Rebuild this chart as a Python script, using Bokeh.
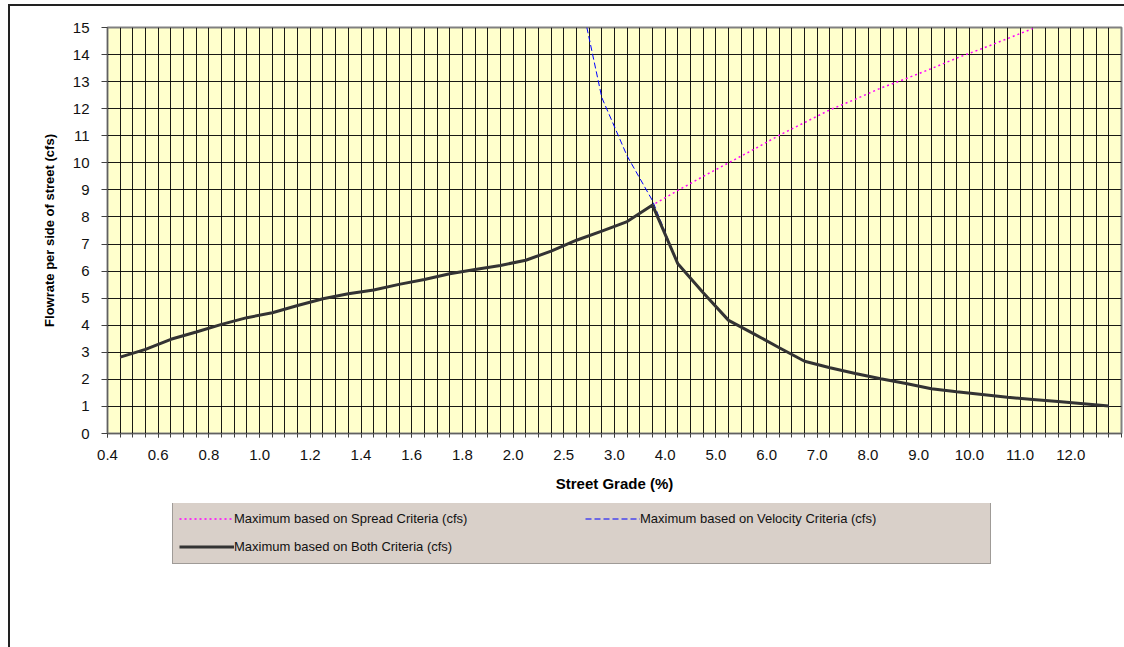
from bokeh.plotting import figure
from bokeh.layouts import column
from bokeh.models import FixedTicker, Legend, LegendItem, Range1d
from bokeh.embed import file_html
from bokeh.resources import INLINE

nan = float("nan")

# Street grade categories (%)
grades = ["0.4", "0.5", "0.6", "0.7", "0.8", "0.9", "1.0", "1.1", "1.2", "1.3",
          "1.4", "1.5", "1.6", "1.7", "1.8", "1.9", "2.0", "2.25", "2.5", "2.75",
          "3.0", "3.5", "4.0", "4.5", "5.0", "5.5", "6.0", "6.5", "7.0", "7.5",
          "8.0", "8.5", "9.0", "9.5", "10.0", "10.5", "11.0", "11.5", "12.0", "12.5"]

# Maximum based on Spread Criteria (cfs)
spread = [2.82, 3.11, 3.48, 3.75, 4.03, 4.28, 4.46, 4.73, 4.98, 5.16,
          5.30, 5.51, 5.69, 5.90, 6.06, 6.21, 6.40, 6.74, 7.14, 7.48,
          7.83, 8.44, 8.98, 9.50, 10.00, 10.50, 11.02, 11.49, 11.96, 12.35,
          12.76, 13.11, 13.48, 13.87, 14.22, 14.59, 14.96, nan, nan, nan]

# Maximum based on Velocity Criteria (cfs)
velocity = [nan, nan, nan, nan, nan, nan, nan, nan, nan, nan,
            nan, nan, nan, nan, nan, nan, nan, 20.5, 16.8, 12.41,
            10.25, 8.60, 6.27, 5.20, 4.18, 3.68, 3.17, 2.67, 2.43, 2.22,
            2.02, 1.85, 1.65, 1.54, 1.44, 1.34, 1.26, 1.18, 1.10, 1.02]

# Maximum based on Both Criteria (cfs)
both = [2.82, 3.11, 3.48, 3.75, 4.03, 4.28, 4.46, 4.73, 4.98, 5.16,
        5.30, 5.51, 5.69, 5.90, 6.06, 6.21, 6.40, 6.74, 7.14, 7.48,
        7.83, 8.44, 6.27, 5.20, 4.18, 3.68, 3.17, 2.67, 2.43, 2.22,
        2.02, 1.85, 1.65, 1.54, 1.44, 1.34, 1.26, 1.18, 1.10, 1.02]

series_labels = ["Maximum based on Spread Criteria (cfs)",
                 "Maximum based on Velocity Criteria (cfs)",
                 "Maximum based on Both Criteria (cfs)"]

y_ticks = list(range(0, 16))

n = len(grades)
xs = [i + 0.5 for i in range(n)]

SPREAD_STYLE = dict(line_color="#FF00FF", line_width=1.5, line_dash="2 3")
VEL_STYLE = dict(line_color="#0000FF", line_width=1, line_dash="6 3")
BOTH_STYLE = dict(line_color="#333333", line_width=3)

p = figure(frame_width=1014, frame_height=406,
           min_border_left=97, min_border_right=3, min_border_top=21, min_border_bottom=70,
           x_range=Range1d(0, n), y_range=Range1d(0, 15),
           output_backend="svg", toolbar_location=None)

p.background_fill_color = "#FFFFCC"
p.border_fill_color = "white"
p.outline_line_color = "#808080"
p.outline_line_width = 2

# grids
p.xgrid.ticker = FixedTicker(ticks=[k * 0.5 for k in range(2 * n + 1)])
p.ygrid.ticker = FixedTicker(ticks=y_ticks)
for g in (p.xgrid, p.ygrid):
    g.grid_line_color = "#000000"
    g.grid_line_alpha = 0.9
    g.grid_line_width = 1

# x axis
label_ticks = list(range(0, n, 2))
p.xaxis.ticker = FixedTicker(ticks=label_ticks, minor_ticks=[k * 0.5 for k in range(2 * n + 1)])
p.xaxis.major_label_overrides = {t: grades[t] for t in label_ticks}
p.xaxis.axis_label = "Street Grade (%)"
p.xaxis.axis_label_text_font = "Liberation Sans"
p.xaxis.axis_label_text_font_style = "bold"
p.xaxis.axis_label_text_font_size = "15px"
p.xaxis.axis_label_standoff = 12
p.xaxis.major_label_standoff = 12

# y axis
p.yaxis.ticker = FixedTicker(ticks=y_ticks)
p.yaxis.axis_label = "Flowrate per side of street (cfs)"
p.yaxis.axis_label_text_font = "Liberation Sans"
p.yaxis.axis_label_text_font_style = "bold"
p.yaxis.axis_label_text_font_size = "13px"
p.yaxis.axis_label_standoff = 13
p.yaxis.major_label_standoff = 12

for ax in (p.xaxis, p.yaxis):
    ax.axis_line_color = "#606060"
    ax.axis_line_width = 1
    ax.major_tick_line_color = "#404040"
    ax.minor_tick_line_color = "#404040"
    ax.major_tick_in = 0
    ax.minor_tick_in = 0
    ax.major_label_text_font = "Liberation Sans"
    ax.major_label_text_font_size = "15px"
    ax.major_label_text_color = "#111111"
    ax.axis_label_text_color = "#000000"
p.xaxis.major_tick_out = 4
p.xaxis.minor_tick_out = 4
p.yaxis.major_tick_out = 6
p.yaxis.minor_tick_out = 0

p.line(xs, spread, **SPREAD_STYLE)
p.line(xs, velocity, **VEL_STYLE)
p.line(xs, both, **BOTH_STYLE)

# legend panel below the chart (swatch renderers share the series styles, no visible data)
leg_h = 144
pl = figure(frame_width=1114, frame_height=leg_h,
            min_border_left=0, min_border_right=0, min_border_top=0, min_border_bottom=0,
            x_range=Range1d(0, 1), y_range=Range1d(0, 1),
            x_axis_type=None, y_axis_type=None,
            output_backend="svg", toolbar_location=None)
pl.grid.visible = False
pl.outline_line_color = None
pl.background_fill_color = "white"
pl.border_fill_color = "white"
l1 = pl.line([nan], [nan], **SPREAD_STYLE)
l2 = pl.line([nan], [nan], **VEL_STYLE)
l3 = pl.line([nan], [nan], **BOTH_STYLE)

legend = Legend(items=[
    LegendItem(label=series_labels[0], renderers=[l1]),
    LegendItem(label=series_labels[1], renderers=[l2]),
    LegendItem(label=series_labels[2], renderers=[l3]),
], location=(162, 83), orientation="horizontal", ncols=2)
legend.glyph_width = 55
legend.glyph_height = 21
legend.label_height = 21
legend.label_width = 344
legend.label_standoff = 0
legend.spacing = 7
legend.padding = 6
legend.margin = 0
legend.label_text_font = "Liberation Sans"
legend.label_text_font_size = "13px"
legend.label_text_color = "#111111"
legend.background_fill_color = "#D9D0C9"
legend.background_fill_alpha = 1
legend.border_line_color = "#666666"
legend.border_line_width = 1.5
pl.add_layout(legend)

layout = column(p, pl, spacing=0)
layout.styles = {"margin-left": "8px", "margin-top": "4px",
                 "border-left": "2px solid #222222", "border-top": "2px solid #222222"}

open("out.html", "w").write(file_html(layout, INLINE))
